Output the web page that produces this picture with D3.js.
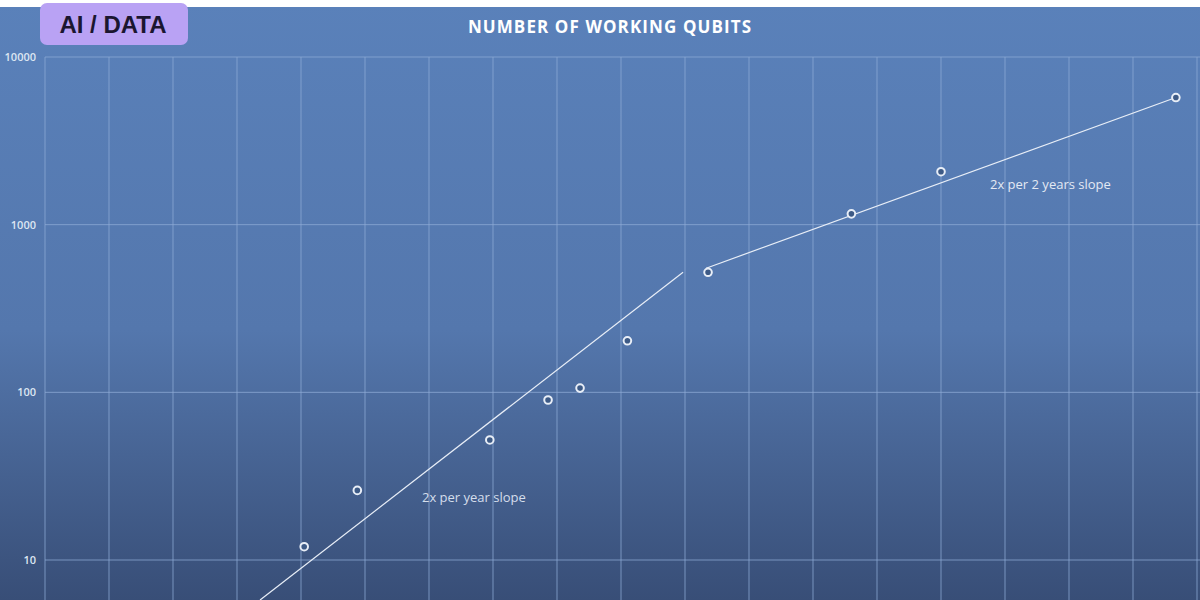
<!DOCTYPE html>
<html><head><meta charset="utf-8">
<script src="https://cdn.jsdelivr.net/npm/d3@7"></script>
<style>body{margin:0;}svg{display:block;}</style></head>
<body><svg id="c" width="1200" height="600"></svg>
<script>
const pointX = [4.05, 4.88, 6.95, 7.86, 8.36, 9.1, 10.36, 12.6, 14.0, 17.67];
const pointQubits = [12, 26, 52, 90, 106, 203, 520, 1160, 2070, 5730];
const trend1X = [3.36, 9.97];
const trend1Y = [5.77, 520];
const trend2X = [10.33, 17.67];
const trend2Y = [550, 5730];
const yTicks = [10, 100, 1000, 10000];
const title = "NUMBER OF WORKING QUBITS";

const svg = d3.select("#c");
const defs = svg.append("defs");
const g = defs.append("linearGradient").attr("id","bg").attr("x1",0).attr("y1",0).attr("x2",0).attr("y2",1);
g.append("stop").attr("offset","0").attr("stop-color","#5a81ba");
g.append("stop").attr("offset","0.55").attr("stop-color","#5477ad");
g.append("stop").attr("offset","1").attr("stop-color","#384e77");
svg.append("rect").attr("width",1200).attr("height",600).attr("fill","url(#bg)");
svg.append("rect").attr("width",1200).attr("height",7).attr("fill","#ffffff");

const x = d3.scaleLinear().domain([0,18]).range([45,1197]);
const y = d3.scaleLog().domain([10,10000]).range([560,57]);

const grid = svg.append("g").attr("stroke","#8fabd6").attr("stroke-opacity",0.75).attr("stroke-width",1);
d3.range(0,19).forEach(i=>{
  grid.append("line").attr("x1",x(i)).attr("x2",x(i)).attr("y1",y(10000)).attr("y2",600);
});
yTicks.forEach(t=>{
  grid.append("line").attr("x1",x(0)).attr("x2",1200).attr("y1",y(t)).attr("y2",y(t));
});
const yAxis = svg.append("g").attr("transform",`translate(${x(0)},0)`)
  .call(d3.axisLeft(y).tickValues(yTicks).tickFormat(d3.format("d")).tickSize(0).tickPadding(9));
yAxis.select(".domain").remove();
yAxis.selectAll("text").attr("fill","#dde6f2").attr("font-family","Open Sans, sans-serif").attr("font-size",11).attr("font-weight","600");

svg.append("text").attr("x",610).attr("y",33).attr("text-anchor","middle")
  .attr("fill","#ffffff").attr("font-family","Open Sans, sans-serif").attr("font-weight","bold")
  .attr("font-size",17).attr("letter-spacing","1.1").text(title);

const line = d3.line().x(d=>x(d[0])).y(d=>y(d[1]));
svg.append("path").datum(d3.zip(trend1X,trend1Y)).attr("d",line).attr("stroke","#e8eef7").attr("stroke-width",1.2).attr("fill","none");
svg.append("path").datum(d3.zip(trend2X,trend2Y)).attr("d",line).attr("stroke","#e8eef7").attr("stroke-width",1.2).attr("fill","none");

svg.append("g").selectAll("circle").data(d3.zip(pointX,pointQubits)).join("circle")
  .attr("cx",d=>x(d[0])).attr("cy",d=>y(d[1])).attr("r",3.8)
  .attr("fill","#3d5a86").attr("stroke","#e8eef7").attr("stroke-width",2);

svg.append("text").attr("x",422).attr("y",502).attr("fill","#d5deeb").attr("font-family","Open Sans, sans-serif").attr("font-size",13).text("2x per year slope");
svg.append("text").attr("x",990).attr("y",189).attr("fill","#e3e9f3").attr("font-family","Open Sans, sans-serif").attr("font-size",13).text("2x per 2 years slope");

svg.append("rect").attr("x",40).attr("y",3).attr("width",148).attr("height",42).attr("rx",7).attr("fill","#b9a2f4");
svg.append("text").attr("x",113).attr("y",33).attr("text-anchor","middle").attr("fill","#1b1630")
  .attr("font-family","Liberation Sans, Arial, sans-serif").attr("font-weight","bold").attr("font-size",24).text("AI / DATA");
</script></body></html>
